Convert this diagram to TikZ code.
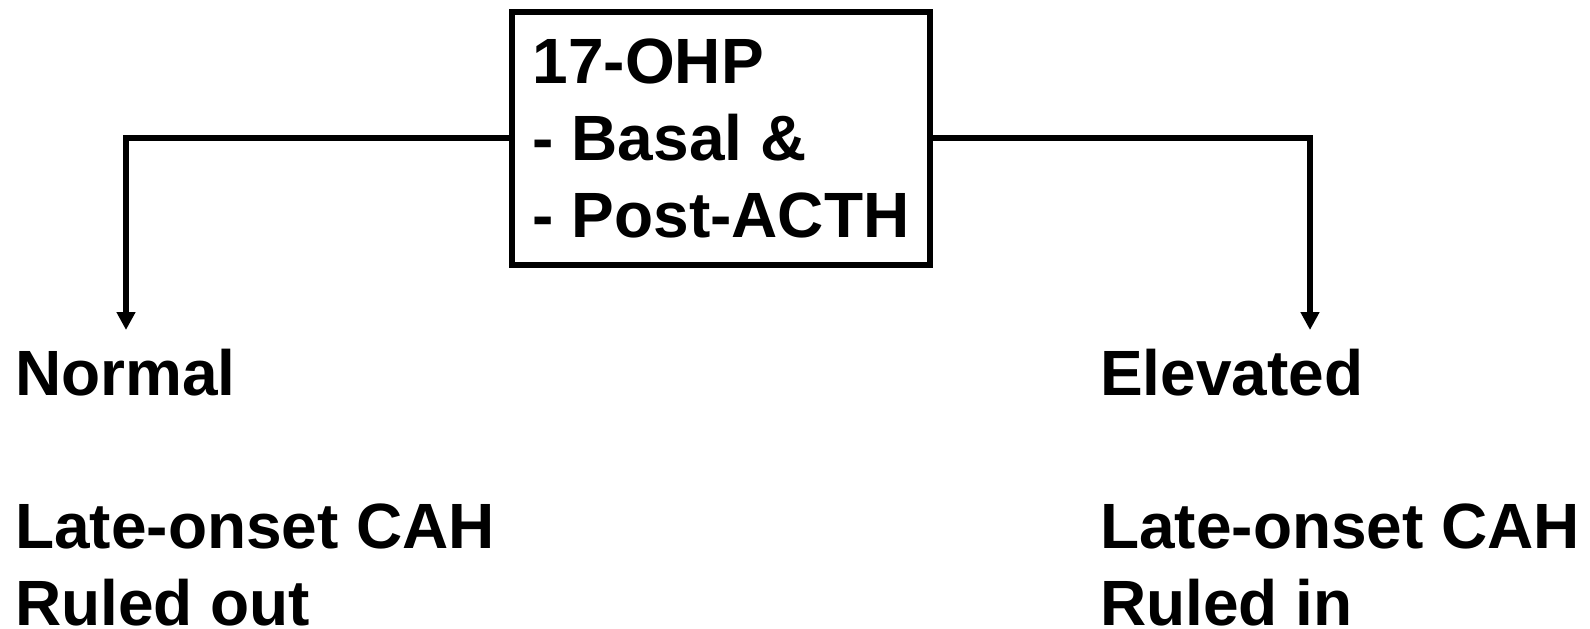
\documentclass[tikz,border=0pt]{standalone}
\usepackage{fontspec}
\setmainfont{Liberation Sans}
\usetikzlibrary{arrows.meta}
\begin{document}
\begin{tikzpicture}[x=1pt,y=-1pt,
  bigfont/.style={font=\fontsize{64}{77}\selectfont\bfseries},
  lbl/.style={bigfont, inner sep=0pt, align=left},
  boxn/.style={bigfont, draw, line width=6pt, minimum width=418pt, minimum height=253pt, inner sep=0pt, align=left},
  arr/.style={line width=6pt, -{Triangle[width=18pt,length=18pt]}}]
\useasboundingbox (0,0) rectangle (1590,629);
\node[boxn] (box) at (721,138) {17-OHP\\- Basal \&\\- Post-ACTH};
\node[lbl, anchor=base west] (normal) at (15,395) {Normal};
\node[lbl, anchor=base west] (elev) at (1100,395) {Elevated};
\node[lbl, anchor=base west] (out) at (15,625) {Late-onset CAH\\Ruled out};
\node[lbl, anchor=base west] (in) at (1100,625) {Late-onset CAH\\Ruled in};
\coordinate (nend) at (126,330);
\coordinate (eend) at (1310,330);
\draw[arr] (box.west) -| (nend);
\draw[arr] (box.east) -| (eend);
\end{tikzpicture}
\end{document}
